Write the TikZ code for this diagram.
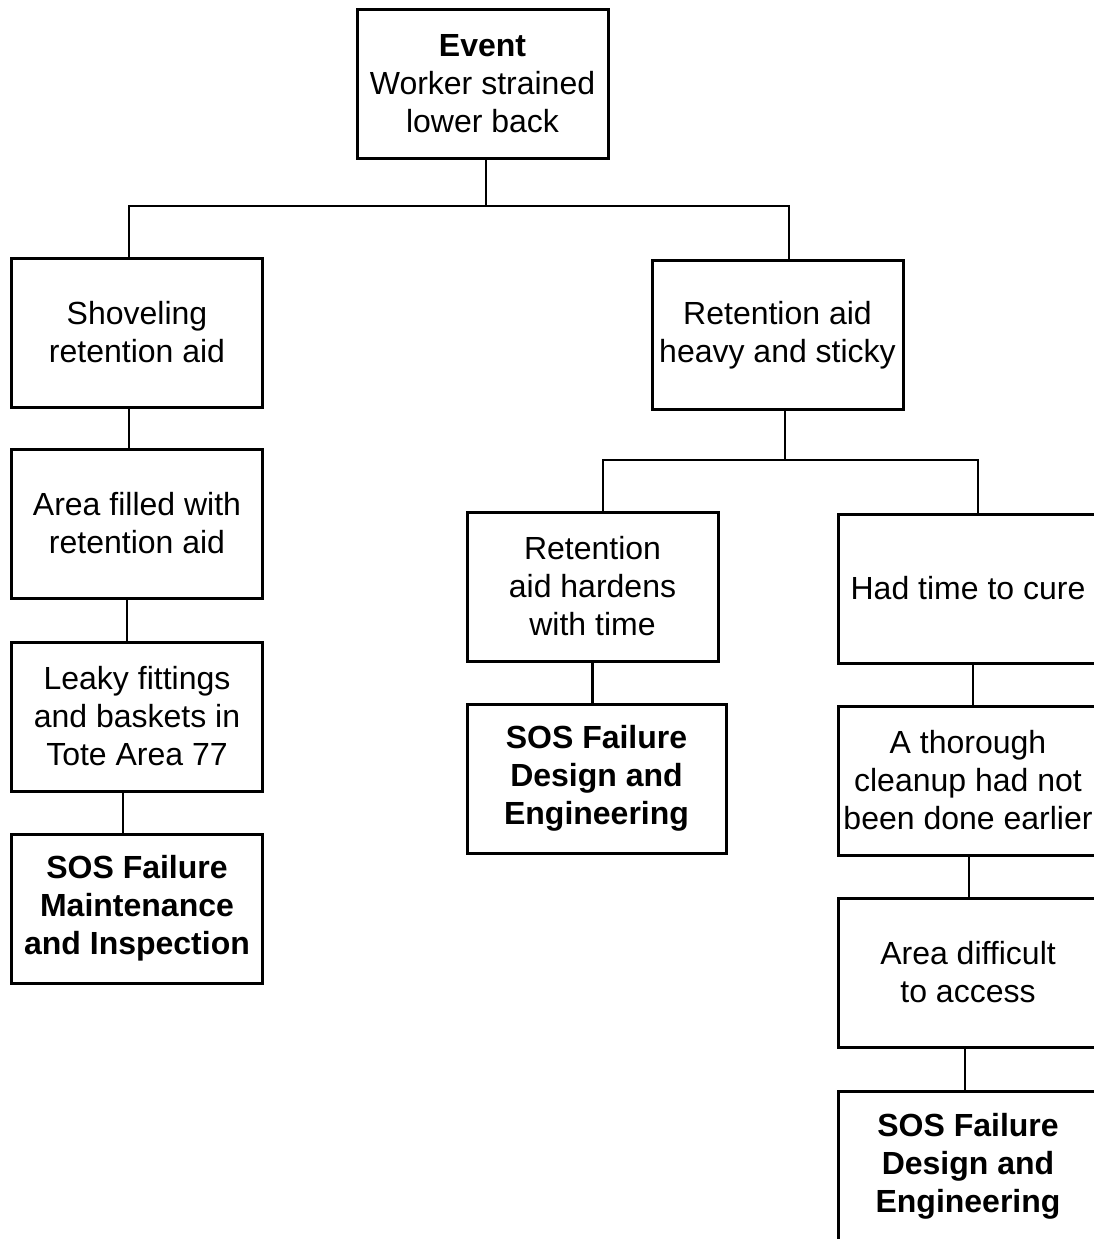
\documentclass[tikz,border=0pt]{standalone}
\usepackage{fontspec}
\setmainfont{Liberation Sans}
\tikzset{
  box/.style={draw, line width=3pt, minimum width=251pt, minimum height=149pt, inner sep=0pt, align=center, font=\fontsize{32}{38}\selectfont},
  widebox/.style={box, minimum width=259pt},
  failtext/.style={font=\fontsize{32}{38}\selectfont\bfseries},
  link/.style={line width=2.5pt}
}
\begin{document}
\begin{tikzpicture}[x=1pt,y=-1pt]
\useasboundingbox (0,0) rectangle (1094,1239);
\node[box] (event) at (482.5,84) {\textbf{Event}\\Worker strained\\lower back};
\node[box] (shovel) at (137,332.5) {Shoveling\\retention aid};
\node[box] (heavy) at (777.5,335) {Retention aid\\heavy and sticky};
\node[box] (filled) at (137,523.5) {Area filled with\\retention aid};
\node[box] (leaky) at (137,716.5) {Leaky fittings\\and baskets in\\Tote Area 77};
\node[box, failtext] (sosmi) at (137,908.5) {SOS Failure\\Maintenance\\and Inspection};
\node[box] (hardens) at (592.5,586.5) {Retention\\aid hardens\\with time};
\node[widebox, failtext] (sosde) at (596.5,778.5) {SOS Failure\\Design and\\Engineering};
\node[widebox] (cure) at (968,588.5) {Had time to cure};
\node[widebox] (cleanup) at (968,780.5) {A thorough\\cleanup had not\\been done earlier};
\node[widebox] (access) at (968,972.5) {Area difficult\\to access};
\node[widebox, failtext] (sosfinal) at (968,1166) {SOS Failure\\Design and\\Engineering};
\coordinate (t1) at (486,206);
\coordinate (t2) at (785,460);
\draw[link] (t1 |- event.south) -- (t1);
\draw[link] (t1) -| ([xshift=-8pt]shovel.north);
\draw[link] (t1) -| ([xshift=11.5pt]heavy.north);
\draw[link] (t2 |- heavy.south) -- (t2);
\draw[link] (t2) -| ([xshift=10.5pt]hardens.north);
\draw[link] (t2) -| ([xshift=10pt]cure.north);
\draw[link] ([xshift=-8pt]shovel.south) -- ([xshift=-8pt]filled.north);
\draw[link] ([xshift=-10pt]filled.south) -- ([xshift=-10pt]leaky.north);
\draw[link] ([xshift=-14pt]leaky.south) -- ([xshift=-14pt]sosmi.north);
\draw[link] (hardens.south) -- (hardens.south |- sosde.north);
\draw[link] ([xshift=5pt]cure.south) -- ([xshift=5pt]cleanup.north);
\draw[link] ([xshift=1pt]cleanup.south) -- ([xshift=1pt]access.north);
\draw[link] ([xshift=-3pt]access.south) -- ([xshift=-3pt]sosfinal.north);
\end{tikzpicture}
\end{document}
